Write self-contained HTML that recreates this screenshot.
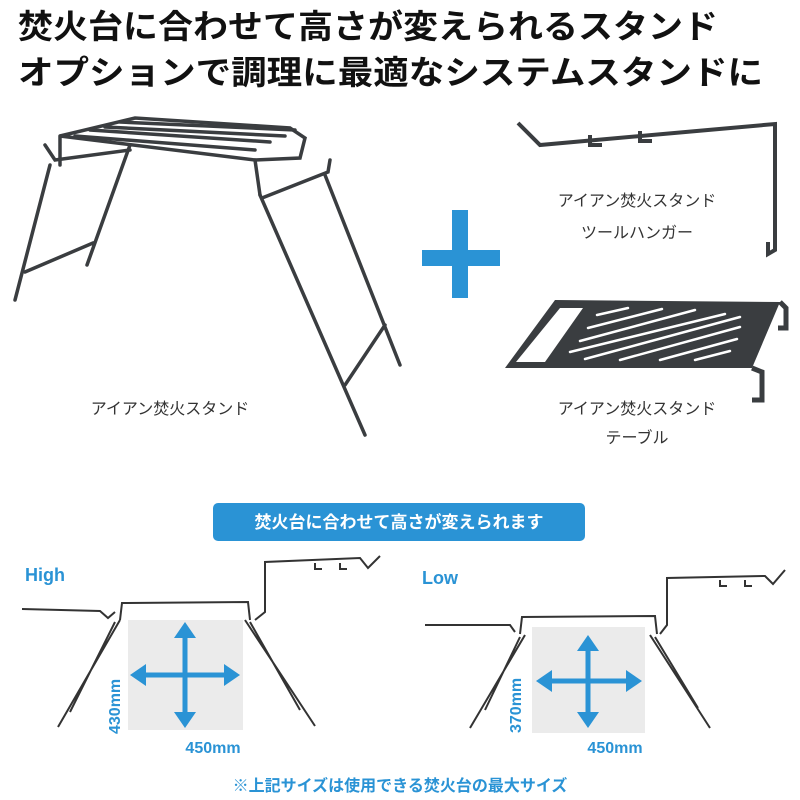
<!DOCTYPE html>
<html><head><meta charset="utf-8"><style>
html,body{margin:0;padding:0;background:#fff;width:800px;height:800px;overflow:hidden}
svg{display:block}
text{font-family:"Liberation Sans","Noto Sans CJK JP",sans-serif}
</style></head><body>
<svg width="800" height="800" viewBox="0 0 800 800" xmlns="http://www.w3.org/2000/svg">
<g font-weight="bold" fill="#111" font-size="33">
<text x="18" y="38" textLength="700" lengthAdjust="spacingAndGlyphs">焚火台に合わせて高さが変えられるスタンド</text>
<text x="18" y="84" textLength="745" lengthAdjust="spacingAndGlyphs">オプションで調理に最適なシステムスタンドに</text>
</g>
<!-- Stand -->
<g stroke="#3a3d40" stroke-width="3.5" fill="none" stroke-linecap="round">
<path d="M60 136 L135 118 L290 128 L305 138 L300 158 L255 160 Z"/>
<path d="M75 136 L255 150 M90 130 L270 142 M105 127 L285 136 M120 122 L295 130"/>
<path d="M60 136 L60 165 M255 160 L260 195"/>
<path d="M50 165 L15 300 M130 145 L87 265 M25 272 L93 243"/>
<path d="M45 145 L55 160 L130 150"/>
<path d="M260 195 L365 435 M325 175 L400 365 M345 385 L385 325 M262 198 L328 172 L330 160"/>
</g>
<g font-size="16" fill="#333">
<text x="170" y="414" text-anchor="middle">アイアン焚火スタンド</text>
<text x="637" y="206" text-anchor="middle">アイアン焚火スタンド</text>
<text x="637" y="238" text-anchor="middle">ツールハンガー</text>
<text x="637" y="414" text-anchor="middle">アイアン焚火スタンド</text>
<text x="637" y="443" text-anchor="middle">テーブル</text>
</g>
<!-- plus -->
<rect x="452" y="210" width="16" height="88" fill="#2a93d5"/>
<rect x="422" y="250" width="78" height="16" fill="#2a93d5"/>
<!-- hanger -->
<g stroke="#3a3d40" stroke-width="4" fill="none">
<path d="M518 123 L540 145 L775 124 L775 250 L768 254 L768 242"/>
<path d="M590 135 L590 145 L602 145 M640 131 L640 141 L652 141"/>
</g>
<!-- table -->
<g>
<path d="M505 368 L555 300 L780 302 L752 368 Z" fill="#3a3d40"/>
<path d="M516 362 L560 308 L583 308 L545 362 Z" fill="#fff"/>
<g stroke="#fff" stroke-width="2.5" stroke-linecap="round">
<path d="M597 315 L628 308 M588 328 L662 309 M580 341 L695 310 M570 352 L725 314 M585 359 L740 317 M620 360 L740 327 M660 360 L737 339 M695 360 L730 351"/>
</g>
<path d="M752 368 L762 372 L762 400 L752 400" stroke="#3a3d40" stroke-width="5" fill="none"/>
<path d="M780 302 L786 308 L786 328 L778 328" stroke="#3a3d40" stroke-width="5" fill="none"/>
</g>
<!-- button -->
<rect x="213" y="503" width="372" height="38" rx="5" fill="#2a93d5"/>
<text x="399" y="528" text-anchor="middle" fill="#fff" font-size="17" font-weight="bold">焚火台に合わせて高さが変えられます</text>
<!-- High -->
<text x="25" y="581" fill="#2a93d5" font-size="18" font-weight="bold">High</text>
<rect x="128" y="620" width="115" height="110" fill="#ebebeb"/>
<g stroke="#333" stroke-width="2" fill="none">
<path d="M22 609 L100 611 L108 618 L115 612 M120 620 L122 603 L248 602 L250 620 M255 620 L265 612 L265 562 L360 558 L368 568 L380 556"/>
<path d="M120 620 L58 727 M115 622 L70 712 M245 620 L315 726 M250 622 L300 710"/>
<path d="M315 563 L315 569 L322 569 M340 563 L340 569 L347 569"/>
</g>
<g fill="#2a93d5" stroke="#2a93d5" stroke-width="5">
<path d="M185 632 L185 718 M140 675 L230 675" />
</g>
<g fill="#2a93d5">
<path d="M185 622 L174 638 L196 638Z M185 728 L174 712 L196 712Z M130 675 L146 664 L146 686Z M240 675 L224 664 L224 686Z"/>
</g>
<text x="0" y="0" transform="translate(120,734) rotate(-90)" fill="#2a93d5" font-size="16" font-weight="bold">430mm</text>
<text x="213" y="753" text-anchor="middle" fill="#2a93d5" font-size="16" font-weight="bold">450mm</text>
<!-- Low -->
<text x="422" y="584" fill="#2a93d5" font-size="18" font-weight="bold">Low</text>
<rect x="532" y="627" width="113" height="106" fill="#ebebeb"/>
<g stroke="#333" stroke-width="2" fill="none">
<path d="M425 625 L510 625 L515 632 M520 634 L522 617 L655 616 L657 634 M660 634 L667 625 L667 578 L765 576 L773 584 L785 570"/>
<path d="M525 635 L470 728 M520 637 L485 710 M650 635 L710 728 M655 637 L698 708"/>
<path d="M720 580 L720 586 L727 586 M745 580 L745 586 L752 586"/>
</g>
<g fill="#2a93d5" stroke="#2a93d5" stroke-width="5">
<path d="M588 645 L588 718 M546 681 L632 681"/>
</g>
<g fill="#2a93d5">
<path d="M588 635 L577 651 L599 651Z M588 728 L577 712 L599 712Z M536 681 L552 670 L552 692Z M642 681 L626 670 L626 692Z"/>
</g>
<text x="0" y="0" transform="translate(521,733) rotate(-90)" fill="#2a93d5" font-size="16" font-weight="bold">370mm</text>
<text x="615" y="753" text-anchor="middle" fill="#2a93d5" font-size="16" font-weight="bold">450mm</text>
<text x="400" y="791" text-anchor="middle" fill="#2a93d5" font-size="16" font-weight="bold">※上記サイズは使用できる焚火台の最大サイズ</text>
</svg>
</body></html>
